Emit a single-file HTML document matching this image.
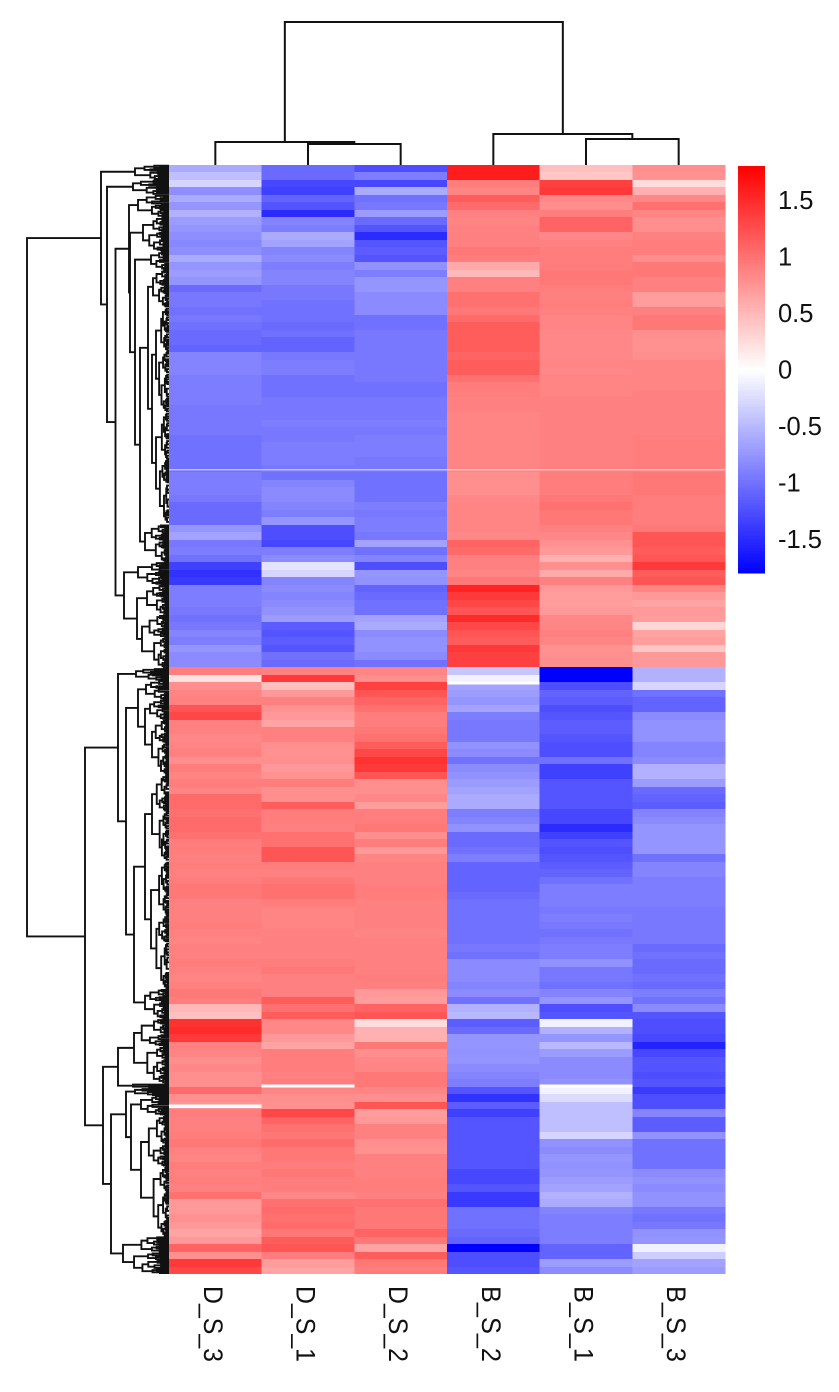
<!DOCTYPE html>
<html lang="en">
<head>
<meta charset="utf-8">
<title>Clustered heatmap</title>
<style>
html,body{margin:0;padding:0;background:#fff;width:839px;height:1392px;overflow:hidden}
svg{display:block}
text{font-family:"Liberation Sans",Arial,sans-serif;fill:#111}
</style>
</head>
<body>
<svg id="chart" xmlns="http://www.w3.org/2000/svg" width="839" height="1392" viewBox="0 0 839 1392"></svg>
<script>
const sampleNames = ["D_S_3","D_S_1","D_S_2","B_S_2","B_S_1","B_S_3"];
const legendTicks = [1.5,1,0.5,0,-0.5,-1,-1.5];
const legendTickLabels = ["1.5","1","0.5","0","-0.5","-1","-1.5"];

const dS3 = [
-.6,-.45,-.3,-.8,-.6,-.75,-.55,-.7,-.75,-.8,
-.85,-.8,-.6,-.75,-.7,-.75,-1.05,-.95,-.95,-1,
-.95,-1,-1.05,-1.05,-1.1,-.87,-.87,-.87,-.92,-.92,
-.92,-.92,-.95,-.95,-.95,-.95,-1,-1,-1,-1,
-1,-.92,-.92,-.92,-.95,-1.05,-1.05,-1.05,-.75,-.65,
-.95,-.92,-1,-1.35,-1.45,-1.4,-.92,-.92,-.92,-.95,
-1,-.95,-.87,-.92,-.75,-.82,-.82,.92,.2,.8,
.87,.9,1.2,1.3,.9,.9,.85,.87,.9,.8,
.92,.87,.92,.87,1.05,1.05,1,1.05,1.05,1,
.92,.92,.9,.92,.9,.92,.95,.95,.9,.9,
.9,.92,.9,.87,.9,.9,.92,.9,.87,.9,
.95,.92,.5,.45,1.45,1.5,1.4,.9,.87,.8,
.85,.8,.8,1.05,.8,.75,.92,.9,.9,.92,
.95,.9,.87,.92,.9,.92,.9,1,.72,.72,
.78,.72,.65,.72,1.1,.8,1.4,1.3];

const dS1 = [
-1.05,-1.05,-1.3,-1.35,-1.1,-1.2,-1.5,-.87,-.92,-.6,
-.65,-.87,-.82,-.92,-.87,-.87,-.95,-.95,-1,-1,
-1,-1.05,-1,-1.1,-1.1,-.95,-.92,-.92,-1,-1,
-1,-.95,-.95,-.95,-.92,-.95,-.95,-.92,-.92,-.92,
-.95,-1,-.87,-.82,-.82,-.87,-.92,-.75,-1.25,-1.25,
-1.3,-.92,-.82,-.2,-.3,-.87,-.82,-.87,-.82,-.78,
-.7,-1.15,-1.2,-1.15,-1.2,-1,-1.05,.9,1.4,.45,
.72,.9,.78,.72,.65,.9,.9,.8,.78,.8,
.72,.78,.92,.8,.8,1.15,.92,.92,.9,1,
1,1.2,1.2,.92,.9,.95,1,1,.92,.87,
.87,.87,.9,.9,.9,.9,.92,.95,.9,.9,
.9,1.15,1,1.15,.85,.85,.72,.65,.92,.92,
.92,.9,.92,.87,.8,.78,1.3,1.1,1,.95,
1.05,.95,.95,.92,.95,.92,.92,.85,1,1.05,
1,1.05,.95,1.15,1.2,.92,.7,.65];

const dS2 = [
-1.25,-.92,-1.3,-.6,-1,-.95,-.7,-1.05,-1.2,-1.5,
-1.2,-1.15,-1.2,-.78,-.92,-.75,-.75,-.82,-.82,-.82,
-1,-1,-.95,-.95,-.95,-.95,-.95,-.95,-.95,-1,
-1,-.95,-.95,-.95,-.92,-.95,-.92,-.92,-.92,-.95,
-.95,-1,-1,-1,-1,-.92,-.95,-.92,-.92,-.95,
-.65,-1,-.87,-1.25,-.75,-.78,-1.1,-1.05,-1,-1,
-.65,-.6,-.82,-.78,-.78,-.82,-1,.87,.8,1.35,
1.2,1.1,1,.92,.92,.95,1,1.15,1.3,1.45,
1.4,1.2,.8,.8,.85,.7,.92,.92,.95,.8,
.92,.72,.87,.9,.9,.9,.92,.92,.9,.9,
.9,.9,.87,.9,.9,.9,.9,.9,.92,.9,
.72,.7,1.1,1.2,.25,.55,.55,.95,.8,.85,
.87,.95,.95,.87,.8,1.2,.7,.72,.9,.9,
.8,.78,.9,.9,.9,.92,.92,.9,1,.95,
.95,.95,1.1,.95,.65,1.15,.95,.92];

const bS2 = [
1.6,1.6,.92,.87,1.15,1.05,.9,.87,.9,.9,
.9,.95,.92,.6,.5,.9,.9,1,1,.95,
1.05,1.15,1.15,1.15,1.15,1.1,1.15,1.15,1,.92,
.92,.9,.9,.87,.87,.87,.87,.87,.87,.87,
.87,.8,.8,.8,.85,.87,.87,.87,.87,.85,
1.1,1.05,.9,.9,.87,.95,1.55,1.4,1.3,1.2,
1.5,1.3,1.2,1.15,1.4,1.35,1.35,-.4,-.1,-.65,
-.7,-.75,-.65,-.92,-.95,-.95,-.95,-.78,-.82,-1,
-.82,-.78,-.7,-.65,-.6,-.6,-.92,-.87,-.78,-1.05,
-1.05,-1,-.92,-1.1,-1.1,-1.1,-1.1,-1.05,-1,-1,
-1,-1,-1,-1,-.95,-1,-.82,-.82,-.82,-.87,
-.82,-1,-.55,-.5,-1.15,-1.05,-.75,-.75,-.78,-.75,
-.82,-.87,-.92,-1.2,-1.45,-1.15,-1.35,-1.2,-1.2,-1.2,
-1.2,-1.2,-1.2,-1.2,-1.3,-1.3,-1.2,-1.4,-1.4,-1,
-1,-1,-1.05,-1.1,-1.8,-1.25,-1.25,-1.2];

const bS1 = [
.45,.4,1.35,1.4,.85,.8,.92,1.1,1.1,.85,
.9,.92,.92,.92,.95,.95,.92,.9,.92,.9,
.87,.87,.85,.85,.85,.85,.87,.85,.87,.87,
.87,.9,.9,.9,.9,.9,.9,.9,.9,.9,
.9,.92,.92,.92,.95,1,.95,.95,.9,.85,
.78,.72,.55,.8,.6,.9,.72,.7,.7,.72,
.85,.87,.9,.87,.78,.8,.8,-1.8,-1.8,-1.25,
-1.1,-1.15,-1.25,-1.2,-1.15,-1.15,-1.2,-1.25,-1.25,-1,
-1.35,-1.35,-1.2,-1.2,-1.2,-1.2,-1.3,-1.3,-1.5,-1.35,
-1.2,-1.25,-1.2,-1.15,-1.1,-1,-.92,-.92,-.92,-.95,
-.92,-.95,-1,-.95,-.92,-.92,-.78,-.95,-.95,-1,
-.87,-.75,-1.25,-1.2,-.1,-.55,-.75,-.5,-.7,-.82,
-.82,-.82,-.78,-.1,-.25,-.45,-.45,-.45,-.45,-.3,
-.78,-.82,-.75,-.78,-.75,-.7,-.65,-.55,-.6,-.87,
-.92,-.92,-.92,-.92,-1.1,-1.1,-.7,-.82];

const bS3 = [
.8,.78,.25,.55,.85,1,.87,.8,.8,.9,
.92,.92,.8,.95,.95,.9,.9,.7,.7,.9,
.95,.95,.8,.78,.78,.8,.87,.87,.87,.87,
.9,.9,.9,.9,.9,.9,.92,.92,.92,.92,
.92,.95,.95,.95,.92,.92,.92,.92,.95,1.2,
1.2,1.15,1.2,1.4,1.15,1.2,.87,.72,.65,.72,
.7,.3,.65,.7,.4,.72,.72,-.55,-.55,-.3,
-1,-1.1,-1.1,-.82,-.78,-.78,-.78,-.87,-.87,-.82,
-.55,-.55,-.7,-1.05,-1.1,-1.15,-.87,-.82,-.75,-.75,
-.75,-.75,-1,-.87,-.87,-.92,-.92,-.92,-.92,-.95,
-.95,-.95,-.95,-.95,-1.05,-1,-1.05,-1.05,-1,-1.05,
-.92,-1,-.82,-1.2,-1.25,-1.25,-1.3,-1.55,-1.3,-1.2,
-1.2,-1.25,-1.2,-1.4,-1.25,-1.25,-.87,-1.15,-1.15,-.78,
-1,-1,-1,-1,-.82,-.78,-.82,-.78,-.78,-.95,
-1,-.95,-.78,-.75,-.1,-.35,-.65,-.7];

const heatColumns = [dS3,dS1,dS2,bS2,bS1,bS3];

const streakRows = [40.6,40.6,40.6,40.6,40.6,40.6,122.7,122.7,125.4,68.9];
const streakColumns = [0,1,2,3,4,5,1,4,0,3];
const streakValues = [-.45,-.45,-.45,.45,.45,.45,0,0,0,0];

const columnTree = [143,[23,0,[21,1,2]],[31,3,[26,4,5]]];

const rowTreeUpper = [68,[34,0,2],[62,[36,2,4],[53.5,
  [40,[31,4,7],[39,[26,7,11.5],[34,[18,11.5,14],[29,
    [21,[16,14,19],[17,[13,19,33],[13,33,48]]],
    [24,48,53]]]]],
  [45,[31,53,56],[32,[22,56,60],[27,60,67.2]]]]]];

const rowTreeLower = [84,
  [51,[33,67.2,68.8],[43,
    [31,[23,68.8,71.4],[24,[19,71.4,74],[17,74,81.4]]],
    [35,[24,[17,81.4,93],[18,93,110]],[24,110,113.9]]]],
  [66,
    [51,[35,113.9,122.6],[36,122.6,123.2]],
    [58,[43,[34,123.2,124.2],[38,[28,124.2,126.8],[28,126.8,143]]],[46,143,148]]]];

const rowTreeRootHeight = 142;

const svg = document.getElementById('chart');
const NS = 'http://www.w3.org/2000/svg';
const PLOT = {left:169,right:725,top:165,bottom:1274};
const columnWidth = (PLOT.right-PLOT.left)/sampleNames.length;
const rowCount = dS3.length;
const rowHeight = (PLOT.bottom-PLOT.top)/rowCount;
const colX = c => PLOT.left + c*columnWidth;
const rowY = r => PLOT.top + r*rowHeight;
const heightX = h => PLOT.left - h;
const heightY = h => PLOT.top - h;
const legendY = v => 369.5 - v*113;
const MAXV = 1.8;

function colorOf(v){
  const t = Math.min(Math.abs(v)/MAXV,1);
  const c = Math.round(255*(1-t));
  return v>=0 ? `rgb(255,${c},${c})` : `rgb(${c},${c},255)`;
}
function make(tag,attrs,parent){
  const el = document.createElementNS(NS,tag);
  for(const k in attrs) el.setAttribute(k,attrs[k]);
  parent.appendChild(el);
  return el;
}

/* heatmap */
const heatGroup = make('g',{'shape-rendering':'crispEdges'},svg);


heatColumns.forEach((values,c)=>{
  values.forEach((v,r)=>{
    const y0 = Math.round(rowY(r)), y1 = Math.round(rowY(r+1));
    const cell = make('rect',{x:colX(c),y:y0,width:columnWidth+0.4,height:y1-y0,fill:colorOf(v)},heatGroup);
    
    
  });
});
streakRows.forEach((r,i)=>{
  const streak = make('rect',{x:colX(streakColumns[i]),y:rowY(r),width:columnWidth,height:i<6?1.5:3.2,fill:colorOf(streakValues[i])},heatGroup);
  
  
});

/* row dendrogram */
let rowPath = '';
const splitCycle = [.42,.58,.36,.5,.64,.46];
const shrinkA = [.72,.6,.78,.55];
const shrinkB = [.55,.76,.62,.7];
function comb(h,r0,r1,depth){
  if((r1-r0)*rowHeight < 2.1 || h < 1.5){
    return {x:PLOT.left,y:rowY((r0+r1)/2)};
  }
  const m = r0+(r1-r0)*splitCycle[depth%splitCycle.length];
  const k = (depth+Math.round(r0*3))%4;
  const a = comb(h*shrinkA[k],r0,m,depth+1);
  const b = comb(h*shrinkB[k],m,r1,depth+2);
  return joinRow(h,a,b);
}
function joinRow(h,a,b){
  const x = heightX(h);
  rowPath += `M${a.x} ${a.y}H${x}V${b.y}H${b.x}`;
  return {x,y:(a.y+b.y)/2};
}
function walkRow(node){
  const h = node[0];
  if(typeof node[1] === 'number') return comb(h,node[1],node[2],0);
  return joinRow(h,walkRow(node[1]),walkRow(node[2]));
}
joinRow(rowTreeRootHeight,walkRow(rowTreeUpper),walkRow(rowTreeLower));
const rowDendro = make('path',{d:rowPath,fill:'none',stroke:'#111','stroke-width':1.9},svg);



/* column dendrogram */
let colPath = '';
function walkCol(node){
  if(typeof node === 'number') return {x:colX(node)+columnWidth/2,y:PLOT.top};
  const a = walkCol(node[1]), b = walkCol(node[2]);
  const y = heightY(node[0]);
  colPath += `M${a.x} ${a.y}V${y}H${b.x}V${b.y}`;
  return {x:(a.x+b.x)/2,y};
}
walkCol(columnTree);
const colDendro = make('path',{d:colPath,fill:'none',stroke:'#111','stroke-width':2},svg);



/* sample labels */
sampleNames.forEach((name,c)=>{
  const x = colX(c)+columnWidth/2-11.5, y = 1286;
  const t = make('text',{x,y,transform:`rotate(90 ${x} ${y})`,'font-size':27,textLength:76,lengthAdjust:'spacingAndGlyphs'},svg);
  t.textContent = name;
  
  
});

/* colour legend */
const legendGroup = make('g',{'shape-rendering':'crispEdges'},svg);


for(let i=-72;i<72;i++){
  const lo = i*0.025, hi = (i+1)*0.025;
  const step = make('rect',{x:738,y:legendY(hi),width:27,height:legendY(lo)-legendY(hi)+0.5,fill:colorOf((lo+hi)/2)},legendGroup);
  
  
}
legendTicks.forEach((v,i)=>{
  const t = make('text',{x:778,y:legendY(v)+9,'font-size':25.5},svg);
  t.textContent = legendTickLabels[i];
  
  
});
</script>
</body>
</html>
